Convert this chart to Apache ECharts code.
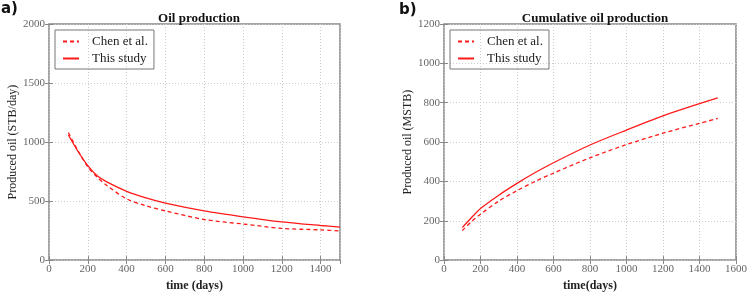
<!DOCTYPE html>
<html>
<head>
<meta charset="utf-8">
<script src="https://cdn.jsdelivr.net/npm/echarts@6/dist/echarts.min.js"></script>
<style>
    html, body { margin: 0; padding: 0; background: #fff; }
    #chart { width: 750px; height: 297px; }
</style>
</head>
<body>
<div id="chart"></div>
<script>
    // values
    const rateDays = [100, 150, 200, 250, 300, 400, 500, 600, 800, 1000, 1200, 1400, 1500]
    const rateChen = [1080, 925, 790, 700, 630, 519, 460, 417, 344, 306, 269, 256, 247]
    const rateStudy = [1060, 920, 800, 712, 660, 583, 527, 483, 417, 367, 324, 293, 280]

    const cumDays = [100, 150, 200, 300, 400, 500, 600, 800, 1000, 1200, 1400, 1500]
    const cumChen = [150, 195, 233, 300, 353, 400, 442, 520, 587, 645, 695, 720]
    const cumStudy = [165, 215, 262, 330, 390, 445, 495, 585, 661, 733, 795, 825]

    const seriesNames = ['Chen et al.', 'This study']

    const serif = 'Liberation Serif'
    const red = '#ff1a1a'

    function pairs(xs, ys) {
        return xs.map((x, i) => [x, ys[i]])
    }

    const tick = {inside: true, length: 4, lineStyle: {color: '#888'}}
    const grid = {show: true, lineStyle: {color: '#ccc', type: [1, 2]}}
    const label = {fontFamily: serif, fontSize: 11, color: '#666', margin: 4, formatter: v => String(v)}

    function xAxis(idx, max, name) {
        return {
            type: 'value', gridIndex: idx, min: 0, max: max, interval: 200,
            name: name, nameLocation: 'middle', nameGap: 18,
            nameTextStyle: {fontFamily: serif, fontSize: 12, color: '#222', fontWeight: 'bold'},
            axisLine: {show: false}, axisTick: tick, axisLabel: label, splitLine: grid
        }
    }

    function yAxis(idx, max, interval, name, gap) {
        return {
            type: 'value', gridIndex: idx, min: 0, max: max, interval: interval,
            name: name, nameLocation: 'middle', nameGap: gap,
            nameTextStyle: {fontFamily: serif, fontSize: 12, color: '#222'},
            axisLine: {show: false}, axisTick: tick, axisLabel: label, splitLine: grid
        }
    }

    // ticks on the top / right edges only
    function mirrorAxis(idx, max, interval, pos) {
        return {
            type: 'value', gridIndex: idx, min: 0, max: max, interval: interval, position: pos,
            axisLine: {show: false}, axisTick: tick, axisLabel: {show: false}, splitLine: {show: false}
        }
    }

    function lineSeries(name, idx, data, dashed) {
        return {
            name: name, type: 'line', xAxisIndex: idx, yAxisIndex: idx,
            data: data, symbol: 'none', smooth: 0.3,
            lineStyle: {color: red, width: 1.3, type: dashed ? [4, 3] : 'solid'},
            itemStyle: {color: red}
        }
    }

    function legend(left) {
        return {
            data: seriesNames,
            left: left, top: 30, orient: 'vertical',
            itemWidth: 16, itemHeight: 8, itemGap: 4,
            padding: [5, 6, 4, 7],
            borderColor: '#777', borderWidth: 1,
            itemStyle: {opacity: 0},
            textStyle: {fontFamily: serif, fontSize: 13, color: '#222', padding: [0, 0, 0, 8]},
            selectedMode: false
        }
    }

    const chart = echarts.init(document.getElementById('chart'))
    const option = {
        animation: false,
        title: [
            {text: 'Oil production', left: 194, top: 7, textAlign: 'center',
                textStyle: {fontFamily: serif, fontSize: 13, fontWeight: 'bold', color: '#111'}},
            {text: 'Cumulative oil production', left: 590, top: 7, textAlign: 'center',
                textStyle: {fontFamily: serif, fontSize: 13, fontWeight: 'bold', color: '#111'}}
        ],
        graphic: [
            {type: 'text', left: 1, top: 2, style: {text: 'a)', font: 'bold 15px "DejaVu Sans"', fill: '#111'}},
            {type: 'text', left: 399, top: 3, style: {text: 'b)', font: 'bold 15px "DejaVu Sans"', fill: '#111'}}
        ],
        legend: [legend(55), legend(450)],
        grid: [
            {left: 49, top: 24, width: 291, height: 240, show: true, borderColor: '#888', borderWidth: 1.5},
            {left: 444, top: 24, width: 292, height: 240, show: true, borderColor: '#888', borderWidth: 1.5}
        ],
        xAxis: [
            xAxis(0, 1500, 'time (days)'), xAxis(1, 1600, 'time(days)'),
            mirrorAxis(0, 1500, 200, 'top'), mirrorAxis(1, 1600, 200, 'top')
        ],
        yAxis: [
            yAxis(0, 2000, 500, 'Produced oil (STB/day)', 27), yAxis(1, 1200, 200, 'Produced oil (MSTB)', 24),
            mirrorAxis(0, 2000, 500, 'right'), mirrorAxis(1, 1200, 200, 'right')
        ],
        series: [
            lineSeries(seriesNames[0], 0, pairs(rateDays, rateChen), true),
            lineSeries(seriesNames[1], 0, pairs(rateDays, rateStudy), false),
            lineSeries(seriesNames[0], 1, pairs(cumDays, cumChen), true),
            lineSeries(seriesNames[1], 1, pairs(cumDays, cumStudy), false)
        ]
    }
    chart.setOption(option)
</script>
</body>
</html>
